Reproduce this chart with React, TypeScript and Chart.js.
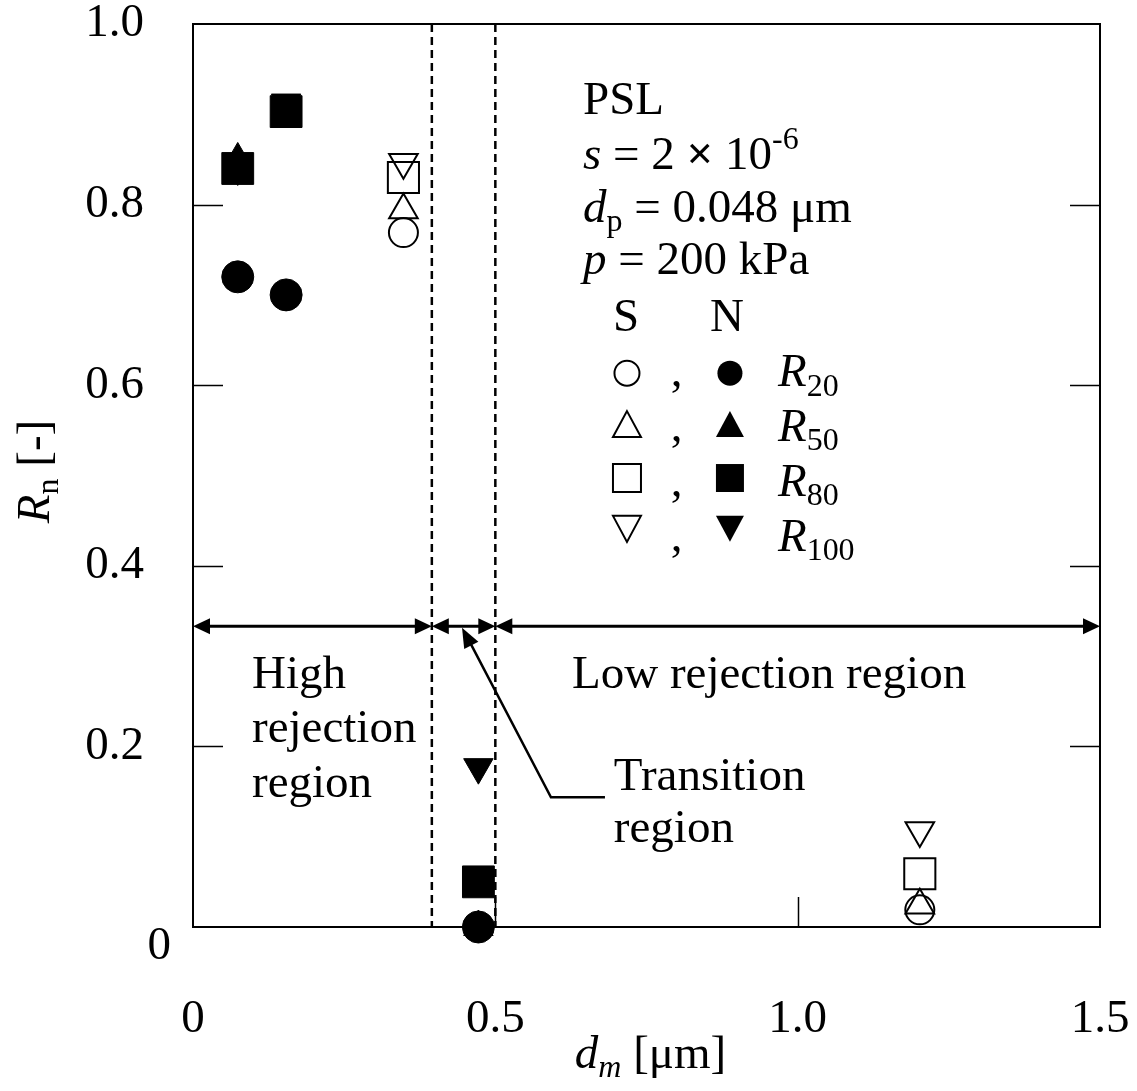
import React, { useEffect, useRef } from 'react';
import { Chart, registerables } from 'chart.js';

Chart.register(...registerables);

const FONT = '"Liberation Serif", "Times New Roman", Times, serif';
const FS = 47;

// ---- data ----
const xTickStep = 0.5;
const yTickStep = 0.2;

// N (filled markers)
const nX = [0.074, 0.154, 0.472];
const nR20 = [0.72, 0.7, 0.0];
const nR50 = [0.85, 0.9, 0.0];
const nR80 = [0.84, 0.903, 0.05];
const nR100 = [0.84, 0.913, 0.177];

// S (open markers)
const sX = [0.348, 1.202];
const sR20 = [0.769, 0.019];
const sR50 = [0.794, 0.024];
const sR80 = [0.83, 0.059];
const sR100 = [0.847, 0.107];

// region boundaries and arrow level
const regionBounds = [0.395, 0.5];
const arrowLevel = 0.333;

type Seg = { t: string; it?: boolean; sub?: boolean; sup?: boolean; bold?: boolean };

function drawRich(ctx: CanvasRenderingContext2D, segs: Seg[], x: number, y: number, measureOnly = false) {
  let cx = x;
  for (const s of segs) {
    const fs = s.sub || s.sup ? FS * 0.68 : FS;
    ctx.font = `${s.it ? 'italic ' : ''}${s.bold ? 'bold ' : ''}${fs}px ${FONT}`;
    const dy = s.sub ? FS * 0.2 : s.sup ? -FS * 0.42 : 0;
    if (!measureOnly) ctx.fillText(s.t, cx, y + dy);
    cx += ctx.measureText(s.t).width;
  }
  return cx - x;
}

function arrowHead(ctx: CanvasRenderingContext2D, tx: number, ty: number, fx: number, fy: number, len = 17, hw = 8) {
  const ang = Math.atan2(ty - fy, tx - fx);
  ctx.beginPath();
  ctx.moveTo(tx, ty);
  ctx.lineTo(tx - len * Math.cos(ang) + hw * Math.sin(ang), ty - len * Math.sin(ang) - hw * Math.cos(ang));
  ctx.lineTo(tx - len * Math.cos(ang) - hw * Math.sin(ang), ty - len * Math.sin(ang) + hw * Math.cos(ang));
  ctx.closePath();
  ctx.fill();
}

function legendSym(ctx: CanvasRenderingContext2D, kind: string, cx: number, cy: number, filled: boolean) {
  ctx.beginPath();
  if (kind === 'circle') {
    ctx.arc(cx, cy, 12.5, 0, Math.PI * 2);
  } else if (kind === 'rect') {
    ctx.rect(cx - 14, cy - 14, 28, 28);
  } else if (kind === 'tri') {
    ctx.moveTo(cx, cy - 13);
    ctx.lineTo(cx + 14, cy + 13);
    ctx.lineTo(cx - 14, cy + 13);
    ctx.closePath();
  } else {
    ctx.moveTo(cx - 14, cy - 13);
    ctx.lineTo(cx + 14, cy - 13);
    ctx.lineTo(cx, cy + 13);
    ctx.closePath();
  }
  if (filled) ctx.fill();
  else ctx.stroke();
}

const annotPlugin = {
  id: 'annot',
  beforeDatasetsDraw(chart: any) {
    const { ctx, chartArea: a, scales } = chart;
    const xs = scales.x, ys = scales.y;
    ctx.save();
    ctx.strokeStyle = '#000';
    ctx.fillStyle = '#000';
    // dashed boundaries
    ctx.lineWidth = 2.5;
    ctx.setLineDash([8, 5]);
    for (const b of regionBounds) {
      const px = xs.getPixelForValue(b);
      ctx.beginPath();
      ctx.moveTo(px, a.top);
      ctx.lineTo(px, a.bottom);
      ctx.stroke();
    }
    ctx.setLineDash([]);
    // double arrows
    const ay = ys.getPixelForValue(arrowLevel);
    const pts = [xs.getPixelForValue(xs.min), ...regionBounds.map((b) => xs.getPixelForValue(b)), xs.getPixelForValue(xs.max)];
    ctx.lineWidth = 3;
    for (let i = 0; i < pts.length - 1; i++) {
      const l = pts[i], r = pts[i + 1];
      ctx.beginPath();
      ctx.moveTo(l + 10, ay);
      ctx.lineTo(r - 10, ay);
      ctx.stroke();
      arrowHead(ctx, l, ay, r, ay);
      arrowHead(ctx, r, ay, l, ay);
    }
    // frame
    ctx.lineWidth = 2;
    ctx.strokeRect(a.left, a.top, a.right - a.left, a.bottom - a.top);
    // inward ticks
    ctx.lineWidth = 1.5;
    for (let v = yTickStep; v < ys.max - 1e-9; v += yTickStep) {
      const py = Math.round(ys.getPixelForValue(v)) + 0.5;
      ctx.beginPath();
      ctx.moveTo(a.left, py);
      ctx.lineTo(a.left + 30, py);
      ctx.moveTo(a.right, py);
      ctx.lineTo(a.right - 30, py);
      ctx.stroke();
    }
    for (let v = xTickStep; v < xs.max - 1e-9; v += xTickStep) {
      const px = Math.round(xs.getPixelForValue(v)) + 0.5;
      ctx.beginPath();
      ctx.moveTo(px, a.bottom);
      ctx.lineTo(px, a.bottom - 30);
      ctx.stroke();
    }
    ctx.restore();
  },
  afterDatasetsDraw(chart: any) {
    const { ctx, chartArea: a, scales } = chart;
    const X = (v: number) => scales.x.getPixelForValue(v);
    const Y = (v: number) => scales.y.getPixelForValue(v);
    ctx.save();
    ctx.fillStyle = '#000';
    ctx.strokeStyle = '#000';
    ctx.textAlign = 'left';
    ctx.textBaseline = 'alphabetic';

    // y-axis zero label (sits lower than the other labels in the original)
    ctx.textAlign = 'right';
    drawRich(ctx, [{ t: '0' }], a.left - 22, Y(0) + 32);
    ctx.textAlign = 'left';

    // condition block
    drawRich(ctx, [{ t: 'PSL' }], X(0.645), Y(0.9006));
    drawRich(ctx, [{ t: 's', it: true }, { t: ' = 2 ' }, { t: '×', bold: true }, { t: ' 10' }, { t: '-6', sup: true }], X(0.645), Y(0.8398));
    drawRich(ctx, [{ t: 'd', it: true }, { t: 'p', sub: true }, { t: ' = 0.048 μm' }], X(0.645), Y(0.7812));
    drawRich(ctx, [{ t: 'p', it: true }, { t: ' = 200 kPa' }], X(0.645), Y(0.7227));
    drawRich(ctx, [{ t: 'S' }], X(0.6946), Y(0.6597));
    drawRich(ctx, [{ t: 'N' }], X(0.855), Y(0.6597));

    // legend rows
    const rows = [
      { kind: 'circle', c: 0.6133, b: 0.5989, sub: '20' },
      { kind: 'tri', c: 0.5569, b: 0.5381, sub: '50' },
      { kind: 'rect', c: 0.4972, b: 0.4773, sub: '80' },
      { kind: 'inv', c: 0.4409, b: 0.4166, sub: '100' },
    ];
    for (const r of rows) {
      ctx.lineWidth = 2;
      legendSym(ctx, r.kind, X(0.7177), Y(r.c), false);
      legendSym(ctx, r.kind, X(0.888), Y(r.c), true);
      drawRich(ctx, [{ t: ',' }], X(0.79), Y(r.b));
      drawRich(ctx, [{ t: 'R', it: true }, { t: r.sub, sub: true }], X(0.9674), Y(r.b));
    }

    // region labels
    drawRich(ctx, [{ t: 'High' }], X(0.0976), Y(0.2652));
    drawRich(ctx, [{ t: 'rejection' }], X(0.0976), Y(0.2044));
    drawRich(ctx, [{ t: 'region' }], X(0.0976), Y(0.1436));
    drawRich(ctx, [{ t: 'Low rejection region' }], X(0.6268), Y(0.2652));
    drawRich(ctx, [{ t: 'Transition' }], X(0.696), Y(0.1514));
    drawRich(ctx, [{ t: 'region' }], X(0.696), Y(0.0939));

    // leader arrow for transition region
    ctx.lineWidth = 2.5;
    const tip = [X(0.4449), Y(0.3315)];
    const elb = [X(0.592), Y(0.1436)];
    const end = [X(0.6813), Y(0.1436)];
    ctx.beginPath();
    ctx.moveTo(end[0], end[1]);
    ctx.lineTo(elb[0], elb[1]);
    ctx.lineTo(tip[0] + 6, tip[1] + 11);
    ctx.stroke();
    arrowHead(ctx, tip[0], tip[1], elb[0], elb[1], 20, 8);

    // axis titles
    const xt: Seg[] = [{ t: 'd', it: true }, { t: 'm', it: true, sub: true }, { t: ' [μm]' }];
    const w = drawRich(ctx, xt, 0, 0, true);
    drawRich(ctx, xt, (a.left + a.right) / 2 - w / 2 + 4, 1068);

    const yt: Seg[] = [{ t: 'R', it: true }, { t: 'n', sub: true }, { t: ' [-]' }];
    const wy = drawRich(ctx, yt, 0, 0, true);
    ctx.translate(49, (a.top + a.bottom) / 2 - 4);
    ctx.rotate(-Math.PI / 2);
    drawRich(ctx, yt, -wy / 2, 0);
    ctx.restore();
  },
};

function ds(label: string, xs: number[], ys: number[], style: string, rot: number, filled: boolean, r: number) {
  return {
    label,
    data: xs.map((v, i) => ({ x: v, y: ys[i] })),
    pointStyle: style,
    pointRotation: rot,
    pointRadius: r,
    pointHoverRadius: r,
    pointBackgroundColor: filled ? '#000' : 'rgba(0,0,0,0)',
    pointBorderColor: '#000',
    pointBorderWidth: filled ? 1 : 2,
    showLine: false,
    clip: false,
  };
}

export default function App() {
  const ref = useRef<HTMLCanvasElement>(null);
  useEffect(() => {
    const canvas = ref.current!;
    const xTickCb = (v: any) => (Math.abs(v) < 1e-9 ? '0' : Number(v).toFixed(1));
    const yTickCb = (v: any) => (Math.abs(v) < 1e-9 ? '' : Number(v).toFixed(1));
    const chart = new Chart(canvas, {
      type: 'scatter',
      data: {
        datasets: [
          ds('N R80', nX, nR80, 'rect', 0, true, 22.5),
          ds('N R20', nX, nR20, 'circle', 0, true, 16),
          ds('N R50', nX, nR50, 'triangle', 0, true, 17),
          ds('N R100', nX, nR100, 'triangle', 180, true, 17),
          ds('S R100', sX, sR100, 'triangle', 180, false, 16.5),
          ds('S R80', sX, sR80, 'rect', 0, false, 22),
          ds('S R50', sX, sR50, 'triangle', 0, false, 16.5),
          ds('S R20', sX, sR20, 'circle', 0, false, 14.5),
        ] as any,
      },
      options: {
        animation: false,
        responsive: false,
        devicePixelRatio: 1,
        events: [],
        layout: { padding: { top: 22, right: 37, bottom: 0, left: 0 } },
        plugins: { legend: { display: false }, tooltip: { enabled: false } },
        scales: {
          x: {
            type: 'linear',
            min: 0,
            max: 1.5,
            grid: { display: false },
            border: { display: false },
            ticks: {
              stepSize: xTickStep,
              callback: xTickCb,
              color: '#000',
              font: { family: FONT, size: FS },
              padding: 56,
              autoSkip: false,
              maxRotation: 0,
            },
            afterFit: (s: any) => {
              s.height = 164;
              s.paddingLeft = 0;
              s.paddingRight = 0;
            },
          },
          y: {
            type: 'linear',
            min: 0,
            max: 1,
            grid: { display: false },
            border: { display: false },
            ticks: {
              stepSize: yTickStep,
              callback: yTickCb,
              color: '#000',
              font: { family: FONT, size: FS },
              padding: 41,
              autoSkip: false,
            },
            afterFit: (s: any) => {
              s.width = 193;
              s.paddingTop = 0;
              s.paddingBottom = 0;
            },
          },
        },
      } as any,
      plugins: [annotPlugin],
    });
    return () => chart.destroy();
  }, []);
  return (
    <div style={{ position: 'absolute', left: 0, top: 0, width: 1137, height: 1091, background: '#fff' }}>
      <canvas ref={ref} width={1137} height={1091} style={{ display: 'block', width: 1137, height: 1091 }} />
    </div>
  );
}
